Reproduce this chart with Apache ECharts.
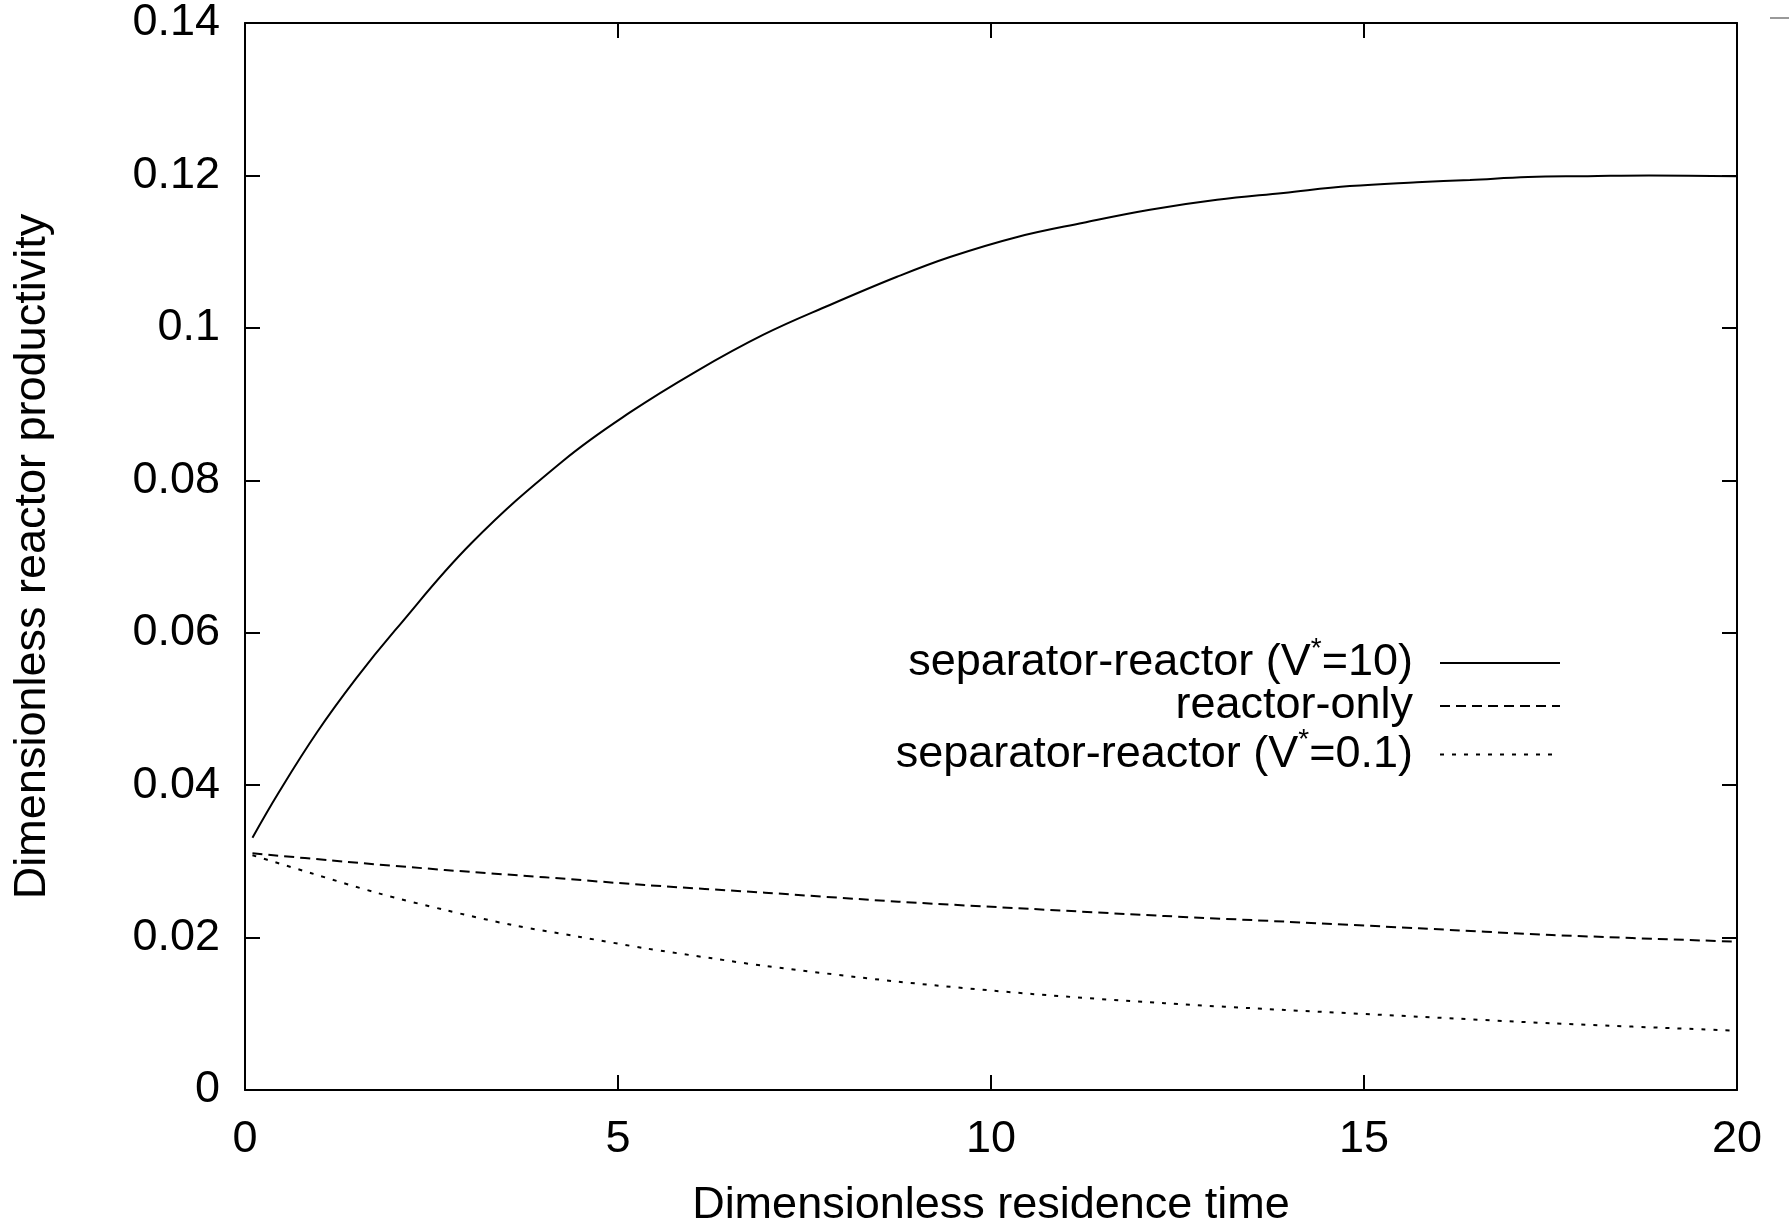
<!DOCTYPE html>
<html><head><meta charset="utf-8">
<script src="https://cdn.jsdelivr.net/npm/echarts@6/dist/echarts.min.js"></script>
<style>html,body{margin:0;padding:0;background:#fff}#c{width:1789px;height:1222px}</style>
</head><body><div id="c"></div>
<script>
// ---- data ----
const xTicks = [0, 5, 10, 15, 20];
const yTickLabels = ['0', '0.02', '0.04', '0.06', '0.08', '0.1', '0.12', '0.14'];
const seriesNames = ['separator-reactor (V*=10)', 'reactor-only', 'separator-reactor (V*=0.1)'];

const xSolid = [0.1, 0.45, 0.97, 1.49, 2.01, 3.04, 4.27, 5.16, 6.05, 6.95, 7.84, 8.74, 9.45, 10.34, 11.24, 12.13, 13.03, 13.92, 14.81, 15.71, 16.42, 17.2, 18.0, 18.82, 20];
const ySolid = [0.0331, 0.0390, 0.0470, 0.0540, 0.0603, 0.0718, 0.0826, 0.0889, 0.0943, 0.0991, 0.1030, 0.1067, 0.1093, 0.1119, 0.1138, 0.1155, 0.1168, 0.1177, 0.1186, 0.1191, 0.1194, 0.1198, 0.1199, 0.1200, 0.1199];

const xDashed = [0.1, 1.34, 2.68, 4.02, 5.36, 6.97, 8.76, 10.55, 12.33, 13.94, 15.73, 17.52, 20];
const yDashed = [0.03106, 0.02996, 0.02887, 0.02791, 0.0269, 0.02589, 0.02471, 0.02375, 0.02283, 0.02209, 0.02122, 0.02034, 0.01946];

const xDotted = [0.1, 0.45, 0.89, 1.79, 2.68, 3.58, 4.47, 5.36, 6.26, 6.97, 8.76, 10.55, 12.33, 13.94, 15.73, 17.52, 20];
const yDotted = [0.0308, 0.02975, 0.02844, 0.02581, 0.02362, 0.02165, 0.02012, 0.0186, 0.01728, 0.01627, 0.01421, 0.0126, 0.01138, 0.0105, 0.00962, 0.00875, 0.00778];

// ---- chart ----
const zip = (xs, ys) => xs.map((x, i) => [x, ys[i]]);
const FONT = '"Liberation Sans", Arial, Helvetica, sans-serif';
const FS = 45;
const lineC = { color: '#000', width: 2 };
const tick = { show: true, inside: true, length: 15, lineStyle: lineC };
const axLine = { show: true, onZero: false, lineStyle: lineC };

const chart = echarts.init(document.getElementById('c'));
chart.setOption({
  animation: false,
  backgroundColor: '#fff',
  grid: { left: 245, right: 52, top: 23, bottom: 132, containLabel: false, outerBoundsMode: 'none' },
  xAxis: [
    { type: 'value', position: 'bottom', min: xTicks[0], max: xTicks[xTicks.length - 1], interval: 5,
      name: 'Dimensionless residence time', nameLocation: 'middle', nameGap: 93,
      nameTextStyle: { fontFamily: FONT, fontSize: FS, color: '#000' },
      axisLabel: { margin: 27, fontFamily: FONT, fontSize: FS, color: '#000' },
      axisTick: tick, axisLine: axLine, splitLine: { show: false } },
    { type: 'value', position: 'top', min: xTicks[0], max: xTicks[xTicks.length - 1], interval: 5,
      axisLabel: { show: false }, axisTick: tick, axisLine: axLine, splitLine: { show: false } }
  ],
  yAxis: [
    { type: 'value', position: 'left', min: 0, max: 0.14, interval: 0.02,
      name: 'Dimensionless reactor productivity', nameLocation: 'middle', nameGap: 190,
      nameTextStyle: { fontFamily: FONT, fontSize: FS, color: '#000' },
      axisLabel: { margin: 25, fontFamily: FONT, fontSize: FS, color: '#000',
        formatter: v => yTickLabels[Math.round(v / 0.02)] },
      axisTick: tick, axisLine: axLine, splitLine: { show: false } },
    { type: 'value', position: 'right', min: 0, max: 0.14, interval: 0.02,
      axisLabel: { show: false }, axisTick: tick, axisLine: axLine, splitLine: { show: false } }
  ],
  legend: {
    orient: 'vertical', align: 'right', right: 223, top: 630,
    itemWidth: 120, itemHeight: 20, itemGap: -2, selectedMode: false,
    itemStyle: { opacity: 0, borderWidth: 0 },
    data: seriesNames,
    formatter: name => {
      const i = name.indexOf('*');
      if (i < 0) return '{t|' + name + '}';
      return '{t|' + name.slice(0, i) + '}{s|*}{t|' + name.slice(i + 1) + '}';
    },
    textStyle: {
      fontFamily: FONT, fontSize: FS, color: '#000', padding: [0, 22, 0, 0],
      rich: {
        t: { fontFamily: FONT, fontSize: FS, color: '#000', lineHeight: 56 },
        s: { fontFamily: FONT, fontSize: 28, color: '#000', lineHeight: 8, verticalAlign: 'top' }
      }
    }
  },
  graphic: [
    { type: 'line', shape: { x1: 1770, y1: 18, x2: 1789, y2: 18 }, style: { stroke: '#999', lineWidth: 2 } }
  ],
  series: [
    { name: seriesNames[0], type: 'line', data: zip(xSolid, ySolid), symbol: 'none', smooth: 0.4,
      itemStyle: { color: '#000' }, lineStyle: { color: '#000', width: 2, type: 'solid' } },
    { name: seriesNames[1], type: 'line', data: zip(xDashed, yDashed), symbol: 'none', smooth: 0.3,
      itemStyle: { color: '#000' }, lineStyle: { color: '#000', width: 2, type: [10, 6] } },
    { name: seriesNames[2], type: 'line', data: zip(xDotted, yDotted), symbol: 'none', smooth: 0.3,
      itemStyle: { color: '#000' }, lineStyle: { color: '#000', width: 2, type: [4, 8] } }
  ]
});
</script>
</body></html>
